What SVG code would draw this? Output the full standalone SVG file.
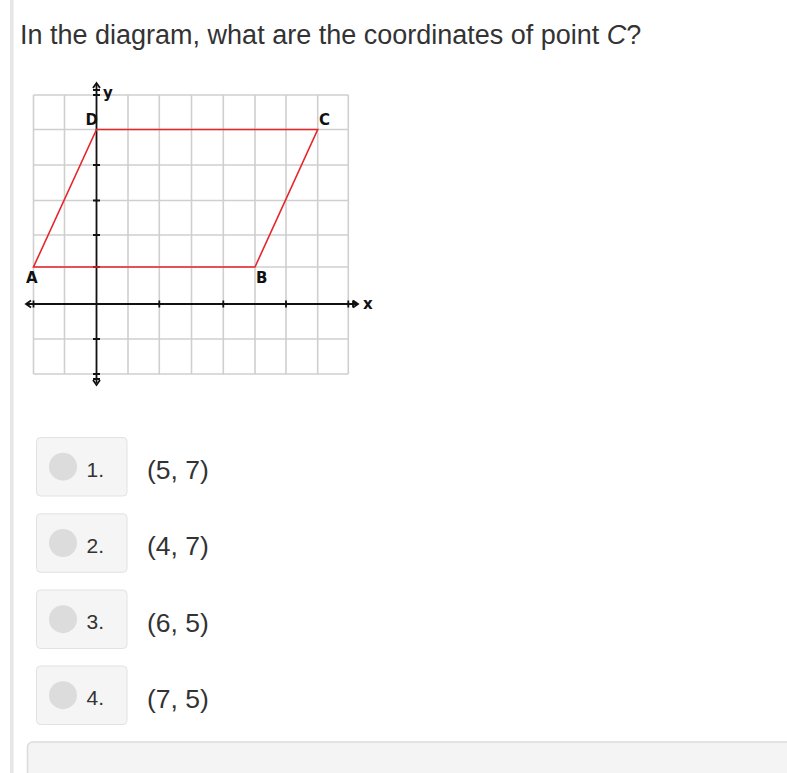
<svg xmlns="http://www.w3.org/2000/svg" width="787" height="773" viewBox="0 0 787 773">
<style>
.t{font-family:"Liberation Sans",Arial,Helvetica,sans-serif;fill:#333}
.grid line{stroke:#cfcfcf;stroke-width:1.6}
.ax{stroke:#111;stroke-width:1.8;fill:none}
.lbl{font-family:"DejaVu Sans",Verdana,sans-serif;font-weight:bold;font-size:15px;fill:#111}
.red{stroke:#e8262a;stroke-width:1.6;fill:none}
.box{fill:#f5f5f5;stroke:#e2e2e2;stroke-width:1}
.dot{fill:#dcdcdc}
.num{font-size:21px}
.ans{font-size:26.5px}
</style>
<rect width="787" height="773" fill="#fff"/>
<rect x="10" y="0" width="3.5" height="773" fill="#e6e6e6"/>
<text class="t" x="20" y="44" font-size="27">In the diagram, what are the coordinates of point <tspan font-style="italic">C</tspan>?</text>

<g id="graph">
<g class="grid">
<line x1="33.5" y1="95" x2="33.5" y2="374"/>
<line x1="64.5" y1="95" x2="64.5" y2="374"/>
<line x1="128" y1="95" x2="128" y2="374"/>
<line x1="159.3" y1="95" x2="159.3" y2="374"/>
<line x1="191.5" y1="95" x2="191.5" y2="374"/>
<line x1="223.3" y1="95" x2="223.3" y2="374"/>
<line x1="255" y1="95" x2="255" y2="374"/>
<line x1="286" y1="95" x2="286" y2="374"/>
<line x1="317.7" y1="95" x2="317.7" y2="374"/>
<line x1="348.3" y1="95" x2="348.3" y2="374"/>
<line x1="33.5" y1="95" x2="348.3" y2="95"/>
<line x1="33.5" y1="129.5" x2="348.3" y2="129.5"/>
<line x1="33.5" y1="165" x2="348.3" y2="165"/>
<line x1="33.5" y1="200.5" x2="348.3" y2="200.5"/>
<line x1="33.5" y1="235" x2="348.3" y2="235"/>
<line x1="33.5" y1="267" x2="348.3" y2="267"/>
<line x1="33.5" y1="339" x2="348.3" y2="339"/>
<line x1="33.5" y1="374" x2="348.3" y2="374"/>
</g>
<g id="axes" class="ax">
<line x1="96.5" y1="84" x2="96.5" y2="383"/>
<line x1="27" y1="304" x2="357" y2="304"/>
<path d="M93,88 L96.5,83 L100,88 M93,90 H100 M93,95 H100 M93,165 H100 M93,200.5 H100 M93,235 H100 M93,267 H100 M93,339 H100 M93,374 H100 M93,379 H100 M93,380 L96.5,385 L100,380"/>
<path d="M31,300.5 L26,304 L31,307.5 M33.5,300.5 V307.5 M159.3,300.5 V307.5 M223.3,300.5 V307.5 M286,300.5 V307.5 M348.3,300.5 V307.5 M353,300.5 V307.5 M353,300.5 L358,304 L353,307.5"/>
</g>
<path id="parallelogram" class="red" d="M33.5,267 L255,267 L317.7,129.5 L96.5,129.5 Z"/>
<text class="lbl" x="103" y="98">y</text>
<text class="lbl" x="85.5" y="124.5">D</text>
<text class="lbl" x="319" y="124.5">C</text>
<text class="lbl" x="26" y="283">A</text>
<text class="lbl" x="256" y="283">B</text>
<text class="lbl" x="363" y="309">x</text>
</g>

<g id="opt1">
<rect class="box" x="36.5" y="437.5" width="90.5" height="58.5" rx="4"/>
<circle class="dot" cx="63" cy="466.7" r="14"/>
<text class="t num" x="86.5" y="476.5">1.</text>
<text class="t ans" x="147" y="479">(5, 7)</text>
</g>
<g id="opt2">
<rect class="box" x="36.5" y="513.8" width="90.5" height="58.5" rx="4"/>
<circle class="dot" cx="63" cy="543" r="14"/>
<text class="t num" x="86.5" y="552.8">2.</text>
<text class="t ans" x="147" y="555.3">(4, 7)</text>
</g>
<g id="opt3">
<rect class="box" x="36.5" y="590" width="90.5" height="58.5" rx="4"/>
<circle class="dot" cx="63" cy="619.2" r="14"/>
<text class="t num" x="86.5" y="629">3.</text>
<text class="t ans" x="147" y="631.5">(6, 5)</text>
</g>
<g id="opt4">
<rect class="box" x="36.5" y="666" width="90.5" height="58.5" rx="4"/>
<circle class="dot" cx="63" cy="695.2" r="14"/>
<text class="t num" x="86.5" y="705">4.</text>
<text class="t ans" x="147" y="707.5">(7, 5)</text>
</g>

<rect x="27.5" y="742" width="780" height="60" rx="5" fill="#f4f4f4" stroke="#dcdcdc" stroke-width="1.5"/>
</svg>
